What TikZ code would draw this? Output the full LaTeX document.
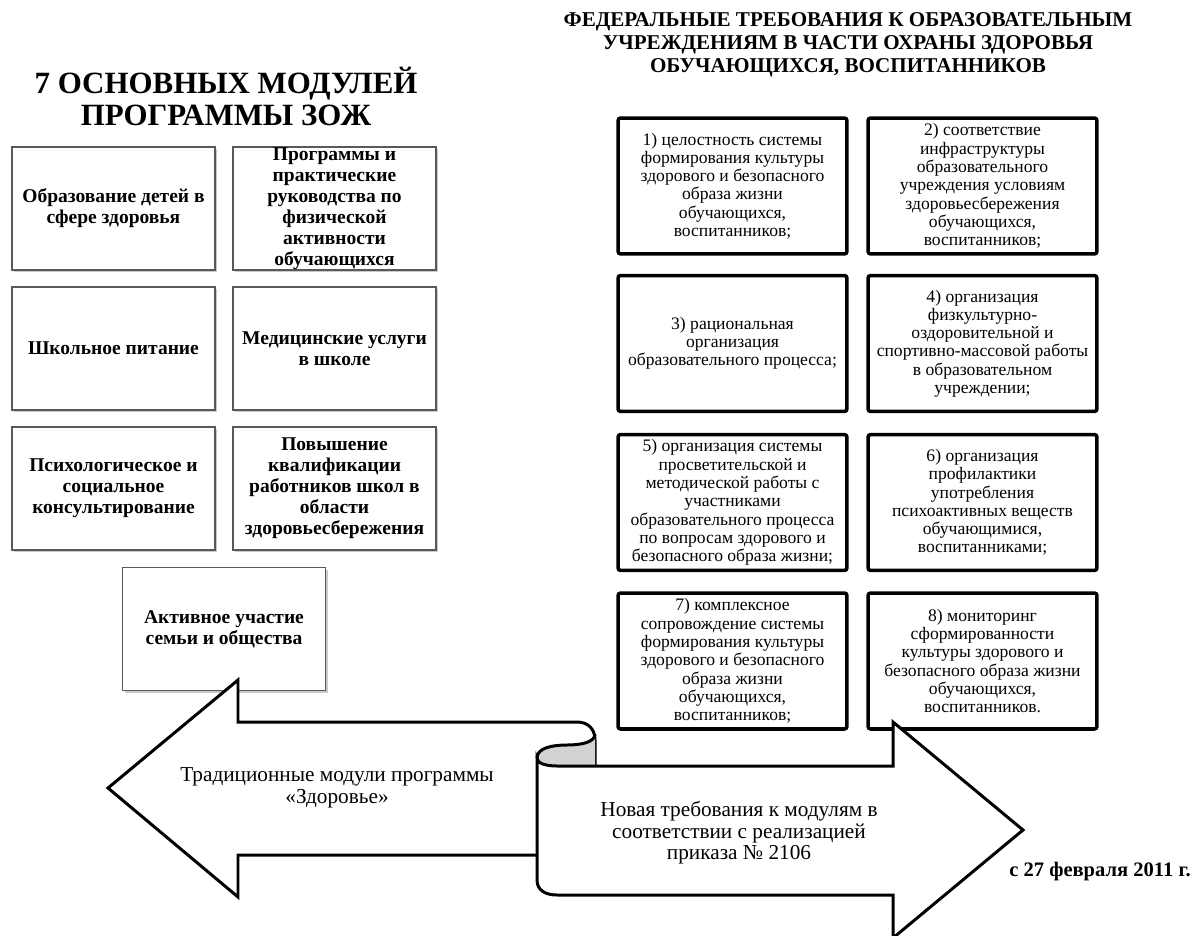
\documentclass[tikz,border=0pt]{standalone}
\usepackage{fontspec}
\setmainfont{Liberation Serif}
\usetikzlibrary{shadows}
\begin{document}
\begin{tikzpicture}[x=0.02cm,y=-0.02cm,
  lboxfont/.style={font=\bfseries\fontsize{11.1pt}{11.9pt}\selectfont},
  lbox/.style={draw=gray!70!black, line width=0.6pt, fill=white,
    drop shadow={shadow xshift=1.3pt, shadow yshift=-1.3pt, fill=gray!70, opacity=0.6},
    minimum width=4.06cm, minimum height=2.46cm, align=center, inner sep=1pt, lboxfont},
  lboxtext/.style={align=center, inner sep=0pt, lboxfont},
  rbox/.style={draw=black, line width=2pt, rounded corners=1.5pt, fill=white,
    minimum width=4.58cm, minimum height=2.72cm, align=center, inner sep=1pt,
    font=\fontsize{10pt}{10.4pt}\selectfont},
  arrowline/.style={draw=black, line width=1.7pt, line join=miter, fill=white},
  arrowtext/.style={align=center, font=\fontsize{12.1pt}{12.2pt}\selectfont}
]
\useasboundingbox (0,0) rectangle (1200,936);

% titles
\node[align=center, font=\bfseries\fontsize{17.6pt}{18.2pt}\selectfont] (ltitle) at (226,96)
  {7 ОСНОВНЫХ МОДУЛЕЙ\\ПРОГРАММЫ ЗОЖ};
\node[align=center, font=\bfseries\fontsize{12pt}{13pt}\selectfont] (rtitle) at (848,45)
  {ФЕДЕРАЛЬНЫЕ ТРЕБОВАНИЯ К ОБРАЗОВАТЕЛЬНЫМ\\УЧРЕЖДЕНИЯМ В ЧАСТИ ОХРАНЫ ЗДОРОВЬЯ\\ОБУЧАЮЩИХСЯ, ВОСПИТАННИКОВ};

% left boxes
\node[lbox] (la) at (113.5,208.5) {Образование детей в\\сфере здоровья};
\node[lbox] (lb) at (334.5,208.5) {};
\node[lboxtext] (lbt) at (lb.center) {Программы и\\практические\\руководства по\\физической\\активности\\обучающихся};
\node[lbox] (lc) at (113.5,348.5) {Школьное питание};
\node[lbox] (ld) at (334.5,348.5) {Медицинские услуги\\в школе};
\node[lbox] (le) at (113.5,488.5) {Психологическое и\\социальное\\консультирование};
\node[lbox] (lf) at (334.5,488.5) {Повышение\\квалификации\\работников школ в\\области\\здоровьесбережения};
\node[lbox] (lg) at (224,629) {Активное участие\\семьи и общества};

% right boxes
\node[rbox] (r1) at (732.5,186) {1) целостность системы\\формирования культуры\\здорового и безопасного\\образа жизни\\обучающихся,\\воспитанников;};
\node[rbox] (r2) at (982.5,186) {2) соответствие\\инфраструктуры\\образовательного\\учреждения условиям\\здоровьесбережения\\обучающихся,\\воспитанников;};
\node[rbox] (r3) at (732.5,343.5) {3) рациональная\\организация\\образовательного процесса;};
\node[rbox] (r4) at (982.5,343.5) {4) организация\\физкультурно-\\оздоровительной и\\спортивно-массовой работы\\в образовательном\\учреждении;};
\node[rbox] (r5) at (732.5,502.5) {5) организация системы\\просветительской и\\методической работы с\\участниками\\образовательного процесса\\по вопросам здорового и\\безопасного образа жизни;};
\node[rbox] (r6) at (982.5,502.5) {6) организация\\профилактики\\употребления\\психоактивных веществ\\обучающимися,\\воспитанниками;};
\node[rbox] (r7) at (732.5,661) {7) комплексное\\сопровождение системы\\формирования культуры\\здорового и безопасного\\образа жизни\\обучающихся,\\воспитанников;};
\node[rbox] (r8) at (982.5,661) {8) мониторинг\\сформированности\\культуры здорового и\\безопасного образа жизни\\обучающихся,\\воспитанников.};

% left block arrow (ends in a curl behind the scroll)
\path[arrowline] (595,766) -- (595,740) .. controls (595,729) and (588,722) .. (577,722)
  -- (238,722) -- (238,680) -- (108,788) -- (238,897) -- (238,855) -- (537,855);

% inside of the roll
\fill[gray!35] (537,758) .. controls (537,748) and (552,745) .. (567,745)
  .. controls (582,745) and (595,742) .. (595,734) -- (595,766) -- (557,766)
  .. controls (545,766) and (537,763) .. (537,758) -- cycle;
\draw[line width=1.7pt] (537,758) .. controls (537,748) and (552,745) .. (567,745)
  .. controls (582,745) and (595,742) .. (595,734);

% right block arrow with scroll end
\path[arrowline] (557,766) -- (893,766) -- (893,722) -- (1023,830) -- (893,938)
  -- (893,895) -- (557,895) .. controls (545,895) and (537,890) .. (537,880)
  -- (537,758) .. controls (537,763) and (545,766) .. (557,766) -- cycle;

% arrow texts
\node[arrowtext] (ltext) at (337,788) {Традиционные модули программы\\«Здоровье»};
\node[arrowtext] (rtext) at (739,833) {Новая требования к модулям в\\соответствии с реализацией\\приказа № 2106};
\node[font=\bfseries\fontsize{11.7pt}{12pt}\selectfont] (date) at (1100,872) {с 27 февраля 2011 г.};
\end{tikzpicture}
\end{document}
